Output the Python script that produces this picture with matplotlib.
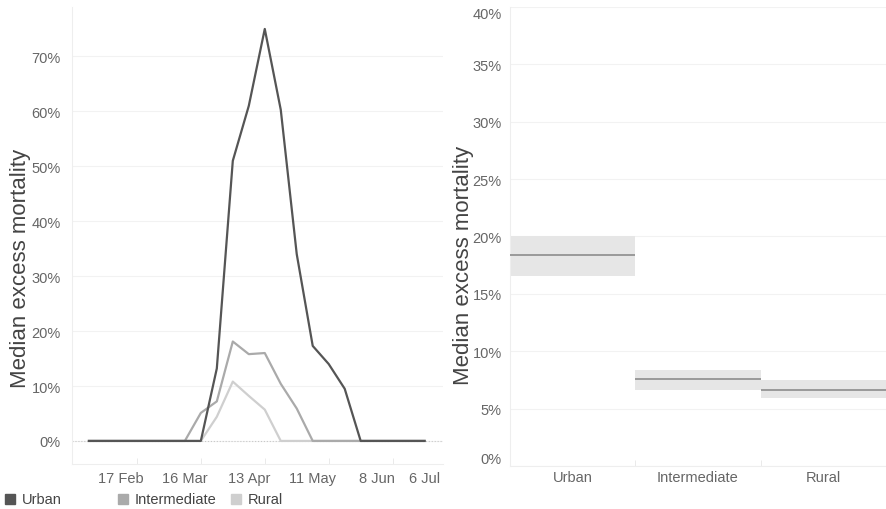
import matplotlib.pyplot as plt
from matplotlib.patches import Rectangle

plt.rcParams['font.family'] = ['Liberation Sans', 'DejaVu Sans']

# weekly medians, week 0 = 3 Feb
weeks = list(range(22))
urban = [0, 0, 0, 0, 0, 0, 0, 0, 13.2, 51, 61, 75, 60.3, 34, 17.3, 14, 9.5, 0, 0, 0, 0, 0]
intermediate = [0, 0, 0, 0, 0, 0, 0, 5.1, 7.2, 18.1, 15.8, 16.0, 10.4, 5.9, 0, 0, 0, 0, 0, 0, 0, 0]
rural = [0, 0, 0, 0, 0, 0, 0, 0, 4.4, 10.8, 8.2, 5.7, 0, 0, 0, 0, 0, 0, 0, 0, 0, 0]
date_ticks = [2, 6, 10, 14, 18, 22]
date_labels = ['17 Feb', '16 Mar', '13 Apr', '11 May', '8 Jun', '6 Jul']

groups = ['Urban', 'Intermediate', 'Rural']
med = [18.4, 7.55, 6.65]
lo = [16.6, 6.65, 5.9]
hi = [20.05, 8.35, 7.5]

cols = ['#555555', '#aaaaaa', '#cfcfcf']
txt = '#666666'
grid = '#f2f2f2'

fig = plt.figure(figsize=(8.86, 5.10), dpi=100)
W, H = 886, 510

# left: time series
ax = fig.add_axes([72 / W, (H - 465) / H, 371 / W, 457 / H])
ax.axhline(0, color='#c8c8c8', lw=0.8, ls=':', zorder=1)
for y, c in zip([rural, intermediate, urban], cols[::-1]):
    ax.plot(weeks, y, color=c, lw=1.6, zorder=2)
ax.set_xlim(-1.06, 22.15)
ax.set_ylim(-4.2, 79)
ax.set_yticks(range(0, 71, 10))
ax.set_yticklabels([f'{v}%' for v in range(0, 71, 10)])
ax.set_xticks(date_ticks)
ax.set_xticklabels(date_labels)
ax.get_xticklabels()[-1].set_ha('right')
ax.set_xticks([3, 7, 11, 15, 19], minor=True)
ax.tick_params(axis='x', which='major', length=0, pad=5, colors=txt, labelsize=10.5)
ax.tick_params(axis='x', which='minor', length=4, direction='in', color='#e6e6e6')
ax.tick_params(axis='y', length=0, pad=8, colors=txt, labelsize=10.5)
ax.grid(axis='y', color=grid, lw=0.8)
ax.set_axisbelow(True)
ax.set_ylabel('Median excess mortality', fontsize=16, color='#444444')
ax.yaxis.set_label_coords(-0.111, 0.43)
for s in ['top', 'right']:
    ax.spines[s].set_visible(False)
for s in ['left', 'bottom']:
    ax.spines[s].set_color('#eeeeee')

# right: group medians with ranges
ax2 = fig.add_axes([510 / W, (H - 467) / H, 376 / W, 459 / H])
xs = range(len(groups))
ax2.bar(xs, [h - l for h, l in zip(hi, lo)], bottom=lo, width=1.0, color='#e6e6e6', zorder=2)
for x, m in zip(xs, med):
    ax2.hlines(m, x - 0.5, x + 0.5, color='#999999', lw=1.4, zorder=3)
ax2.set_xlim(-0.5, 2.5)
ax2.set_ylim(0, 40)
ax2.set_yticks(range(0, 41, 5))
ax2.set_yticklabels([f'{v}%' for v in range(0, 41, 5)])
ylabs = ax2.get_yticklabels()
ylabs[0].set_va('bottom')
ylabs[-1].set_va('top')
ax2.set_xticks(list(xs))
ax2.set_xticklabels(groups)
ax2.set_xticks([0.5, 1.5], minor=True)
ax2.tick_params(axis='x', which='major', length=0, pad=3, colors=txt, labelsize=10.5)
ax2.tick_params(axis='x', which='minor', length=4, direction='in', color='#e6e6e6')
ax2.tick_params(axis='y', length=0, pad=6, colors=txt, labelsize=10.5)
ax2.grid(axis='y', color=grid, lw=0.8)
ax2.set_axisbelow(True)
ax2.set_ylabel('Median excess mortality', fontsize=16, color='#444444')
ax2.yaxis.set_label_coords(-0.096, 0.44)
for s in ['top', 'right']:
    ax2.spines[s].set_visible(False)
for s in ['left', 'bottom']:
    ax2.spines[s].set_color('#eeeeee')

# legend below the left panel
for i, (name, c) in enumerate(zip(groups, cols)):
    x0 = 5 + 113 * i
    fig.patches.append(Rectangle((x0 / W, (H - 505) / H), 10 / W, 10 / H,
                                 transform=fig.transFigure, color=c))
    fig.text((x0 + 17) / W, (H - 500) / H, name, fontsize=10.5, color='#444444', va='center')

fig.savefig('out.png', dpi=100)
